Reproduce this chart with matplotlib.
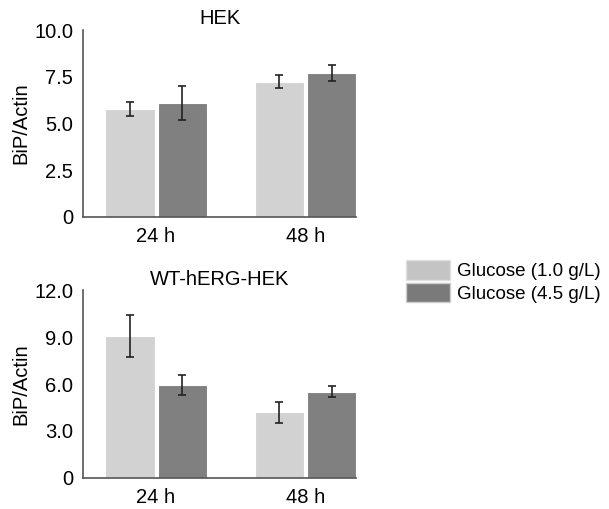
import matplotlib
matplotlib.use("Agg")
from matplotlib import pyplot as plt
from matplotlib.patches import Patch
import numpy as np

plt.rcParams['font.family'] = ['Liberation Sans', 'DejaVu Sans']

# data
times = ['24 h', '48 h']
series = ['Glucose (1.0 g/L)', 'Glucose (4.5 g/L)']

hek_low = [5.77, 7.24]
hek_low_err = [0.37, 0.35]
hek_high = [6.1, 7.7]
hek_high_err = [0.93, 0.42]

herg_low = [9.05, 4.21]
herg_low_err = [1.33, 0.67]
herg_high = [5.93, 5.52]
herg_high_err = [0.63, 0.37]

light = '#d2d2d2'
dark = '#808080'

fig = plt.figure(figsize=(6.09, 5.09), dpi=100)
ax1 = fig.add_axes([0.136, 0.574, 0.449, 0.367])
ax2 = fig.add_axes([0.136, 0.061, 0.449, 0.369])

x = np.arange(len(times))
w = 0.33
off = 0.175


def draw(ax, lo, lo_err, hi, hi_err, title, ymax, ticks, ticklabels):
    ax.bar(x - off, lo, w, color=light, edgecolor='white', linewidth=0.8)
    ax.bar(x + off, hi, w, color=dark, edgecolor='white', linewidth=0.8)
    ax.errorbar(x - off, lo, yerr=lo_err, fmt='none', ecolor='#222222',
                elinewidth=1.2, capsize=3, capthick=1.2)
    ax.errorbar(x + off, hi, yerr=hi_err, fmt='none', ecolor='#222222',
                elinewidth=1.2, capsize=3, capthick=1.2)
    ax.set_xlim(-0.49, 1.34)
    ax.set_ylim(0, ymax)
    ax.set_yticks(ticks)
    ax.set_yticklabels(ticklabels)
    ax.set_xticks(x)
    ax.set_xticklabels(times)
    ax.tick_params(length=0, labelsize=14.5, pad=7, colors='black')
    ax.tick_params(axis='x', pad=7)
    for s in ['top', 'right']:
        ax.spines[s].set_visible(False)
    for s in ['left', 'bottom']:
        ax.spines[s].set_color('#555555')
        ax.spines[s].set_linewidth(1.2)
    ax.set_ylabel('BiP/Actin', fontsize=14.5, labelpad=3)
    ax.set_title(title, fontsize=14.5, pad=4)


draw(ax1, hek_low, hek_low_err, hek_high, hek_high_err, 'HEK',
     10, [0, 2.5, 5, 7.5, 10], ['0', '2.5', '5.0', '7.5', '10.0'])
draw(ax2, herg_low, herg_low_err, herg_high, herg_high_err, 'WT-hERG-HEK',
     12, [0, 3, 6, 9, 12], ['0', '3.0', '6.0', '9.0', '12.0'])

handles = [Patch(facecolor='#c4c4c4', edgecolor='#e0e0e0', label=series[0]),
           Patch(facecolor='#7a7a7a', edgecolor='#cccccc', label=series[1])]
fig.legend(handles=handles, loc='upper left', bbox_to_anchor=(0.655, 0.503),
           frameon=False, fontsize=13.5, handlelength=2.3, handleheight=1.2,
           handletextpad=0.4, labelspacing=0.15, borderaxespad=0)

fig.savefig('out.png', dpi=100)
